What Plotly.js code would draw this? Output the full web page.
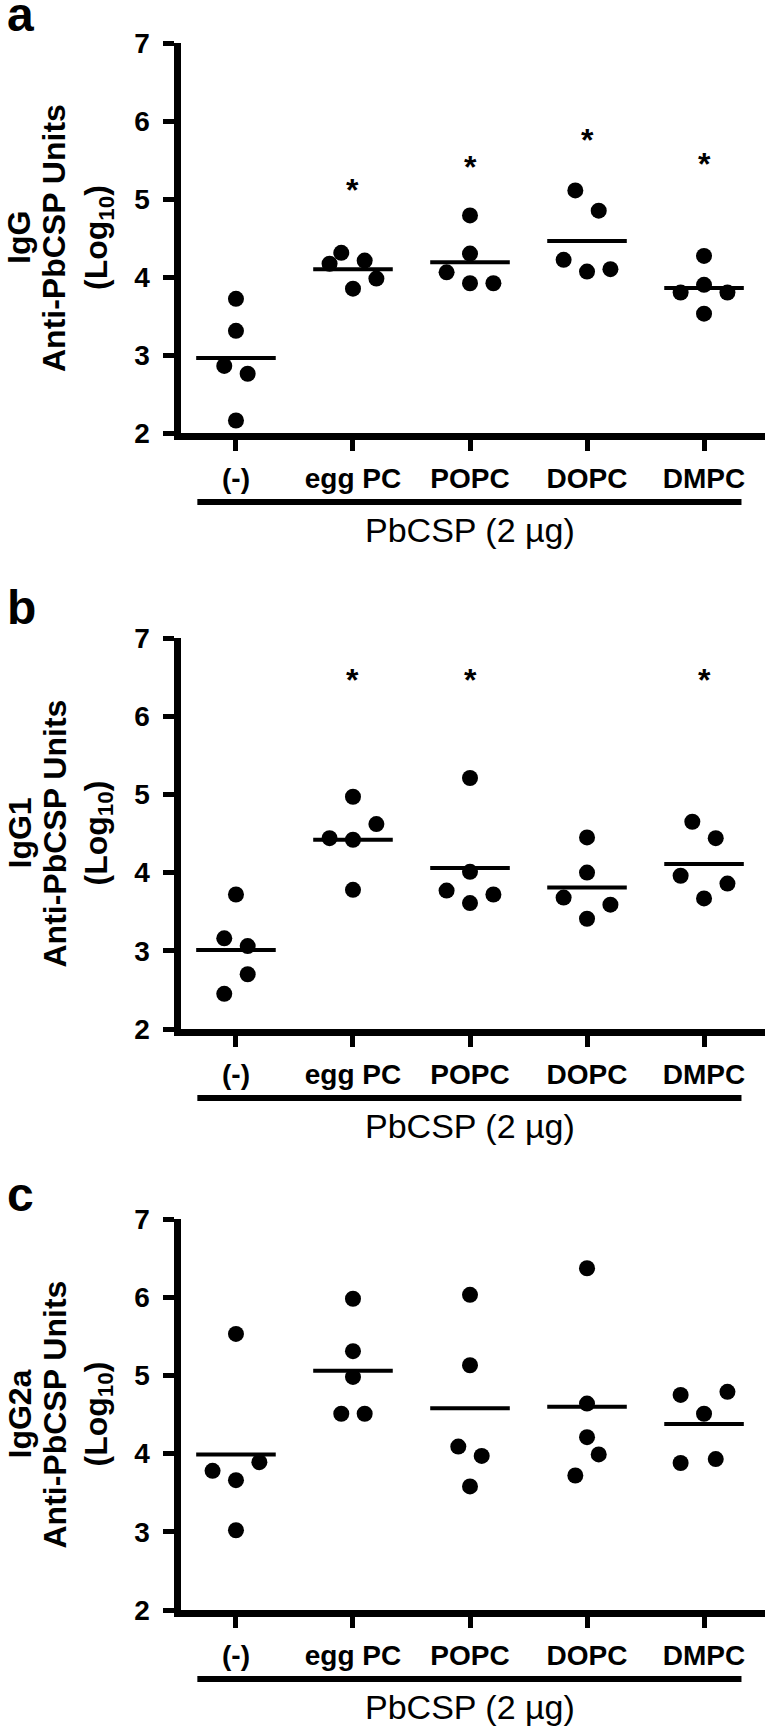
<!DOCTYPE html>
<html><head><meta charset="utf-8">
<script src="https://cdn.plot.ly/plotly-3.0.1.min.js"></script>
<style>html,body{margin:0;padding:0;background:#fff}#chart{width:768px;height:1732px}</style>
</head><body><div id="chart"></div>
<script>
// ---------- data ----------
const categories = ['(-)', 'egg PC', 'POPC', 'DOPC', 'DMPC'];
const panelLetters = ['a', 'b', 'c'];
const isotypes = ['IgG', 'IgG1', 'IgG2a'];
const yTicks = [2, 3, 4, 5, 6, 7];

// Panel a: IgG (log10 units), five mice per group
const igG_neg   = [3.72, 3.31, 2.86, 2.76, 2.16];
const igG_egg   = [4.17, 4.31, 4.21, 3.85, 3.98];
const igG_popc  = [4.79, 4.30, 4.06, 3.92, 3.92];
const igG_dopc  = [5.11, 4.85, 4.22, 4.07, 4.10];
const igG_dmpc  = [4.27, 3.80, 3.90, 3.80, 3.53];
const igG_means = [2.96, 4.10, 4.19, 4.46, 3.86];
const igG_sig   = ['', '*', '*', '*', '*'];
const igG_sigY  = [null, 5.21, 5.50, 5.84, 5.54];

// Panel b: IgG1
const igG1_neg   = [3.72, 3.16, 3.06, 2.70, 2.45];
const igG1_egg   = [4.97, 4.62, 4.44, 4.42, 3.78];
const igG1_popc  = [5.21, 4.01, 3.77, 3.72, 3.61];
const igG1_dopc  = [4.45, 4.00, 3.68, 3.59, 3.41];
const igG1_dmpc  = [4.65, 4.44, 3.96, 3.86, 3.67];
const igG1_means = [3.01, 4.42, 4.06, 3.81, 4.11];
const igG1_sig   = ['', '*', '*', '', '*'];
const igG1_sigY  = [null, 6.55, 6.55, null, 6.55];

// Panel c: IgG2a
const igG2a_neg   = [5.53, 3.78, 3.89, 3.66, 3.02];
const igG2a_egg   = [5.98, 5.31, 4.98, 4.51, 4.51];
const igG2a_popc  = [6.03, 5.13, 4.09, 3.97, 3.58];
const igG2a_dopc  = [6.37, 4.64, 4.21, 3.99, 3.72];
const igG2a_dmpc  = [4.75, 4.79, 4.51, 3.88, 3.93];
const igG2a_means = [3.99, 5.06, 4.58, 4.60, 4.38];
const igG2a_sig   = ['', '', '', '', ''];
const igG2a_sigY  = [null, null, null, null, null];

// horizontal spread of overlapping dots (category units), as drawn
const igG_spread   = [[0,0,-0.1,0.1,0], [-0.2,-0.1,0.1,0,0.2], [0,0,-0.2,0,0.2], [-0.1,0.1,-0.2,0,0.2], [0,-0.2,0,0.2,0]];
const igG1_spread  = [[0,-0.1,0.1,0.1,-0.1], [0,0.2,-0.2,0,0], [0,0,-0.2,0.2,0], [0,0,-0.2,0.2,0], [-0.1,0.1,-0.2,0.2,0]];
const igG2a_spread = [[0,-0.2,0.2,0,0], [0,0,0,-0.1,0.1], [0,0,-0.1,0.1,0], [0,0,0,0.1,-0.1], [-0.2,0.2,0,-0.2,0.1]];

const groupLabel = 'PbCSP (2 µg)';

// ---------- build ----------
const panels = [
  {groups: [igG_neg, igG_egg, igG_popc, igG_dopc, igG_dmpc], means: igG_means, sig: igG_sig, sigY: igG_sigY, spread: igG_spread},
  {groups: [igG1_neg, igG1_egg, igG1_popc, igG1_dopc, igG1_dmpc], means: igG1_means, sig: igG1_sig, sigY: igG1_sigY, spread: igG1_spread},
  {groups: [igG2a_neg, igG2a_egg, igG2a_popc, igG2a_dopc, igG2a_dmpc], means: igG2a_means, sig: igG2a_sig, sigY: igG2a_sigY, spread: igG2a_spread}
];

const W = 768, H = 1732;
const FONT = 'Liberation Sans, Arial, Helvetica, sans-serif';
const plotTopPx = [43, 638, 1219];   // pixel y of value 7
const plotBotPx = [433, 1029, 1610]; // pixel y of value 2
const letterPx  = [14, 607, 1194];   // pixel y of panel letters (box middle)
const xDomain = [180.5 / W, 765 / W];
const xRange = [-0.474, 4.521];
const meanHalf = 0.34;

const traces = [];
const layout = {
  width: W, height: H,
  margin: {l: 0, r: 0, t: 0, b: 0, pad: 0},
  paper_bgcolor: '#fff', plot_bgcolor: '#fff',
  showlegend: false,
  annotations: [], shapes: []
};

panels.forEach((p, i) => {
  const sfx = i === 0 ? '' : String(i + 1);
  const xa = 'x' + sfx, ya = 'y' + sfx;
  const yDom = [1 - plotBotPx[i] / H, 1 - plotTopPx[i] / H];

  layout['xaxis' + sfx] = {
    domain: xDomain, range: xRange, anchor: ya,
    tickmode: 'array', tickvals: categories.map((c, k) => k), ticktext: categories,
    ticks: 'outside', ticklen: 11, tickwidth: 5, tickcolor: '#000',
    showline: true, linewidth: 7, linecolor: '#000',
    showgrid: false, zeroline: false, automargin: false, fixedrange: true,
    ticklabelstandoff: 3,
    tickfont: {family: FONT, size: 28, color: '#000', weight: 'bold'}
  };
  layout['yaxis' + sfx] = {
    domain: yDom, range: [2, 7], anchor: xa,
    tickmode: 'array', tickvals: yTicks, ticktext: yTicks.map(String),
    ticks: 'outside', ticklen: 11, tickwidth: 5, tickcolor: '#000',
    showline: true, linewidth: 7, linecolor: '#000',
    showgrid: false, zeroline: false, automargin: false, fixedrange: true,
    ticklabelstandoff: 7,
    tickfont: {family: FONT, size: 28, color: '#000', weight: 'bold'}
  };

  // dots
  p.groups.forEach((vals, k) => {
    traces.push({
      type: 'scatter', mode: 'markers', xaxis: xa, yaxis: ya,
      x: vals.map((v, j) => k + p.spread[k][j]), y: vals,
      marker: {size: 16, color: '#000'}, hoverinfo: 'skip'
    });
  });
  // mean lines
  p.means.forEach((m, k) => {
    traces.push({
      type: 'scatter', mode: 'lines', xaxis: xa, yaxis: ya,
      x: [k - meanHalf, k + meanHalf], y: [m, m],
      line: {color: '#000', width: 4}, hoverinfo: 'skip'
    });
  });
  // significance asterisks
  p.sig.forEach((s, k) => {
    if (!s) return;
    layout.annotations.push({
      xref: xa, yref: ya, x: k, y: p.sigY[k], text: s, showarrow: false,
      xanchor: 'center', yanchor: 'middle', yshift: -7,
      font: {family: FONT, size: 32, color: '#000', weight: 'bold'}
    });
  });

  const midPx = (plotTopPx[i] + plotBotPx[i]) / 2;
  // panel letter
  layout.annotations.push({
    xref: 'paper', yref: 'paper', x: 5 / W, y: 1 - letterPx[i] / H,
    text: panelLetters[i], showarrow: false, xanchor: 'left', yanchor: 'middle',
    font: {family: FONT, size: 48, color: '#000', weight: 'bold'}
  });
  // y-axis title lines
  const titleLines = [isotypes[i], 'Anti-PbCSP Units', '(Log<sub>10</sub>)'];
  const titleX = [19, 54, 98];
  titleLines.forEach((t, j) => {
    layout.annotations.push({
      xref: 'paper', yref: 'paper', x: titleX[j] / W, y: 1 - midPx / H,
      text: t, showarrow: false, textangle: -90, xanchor: 'center', yanchor: 'middle',
      font: {family: FONT, size: 32, color: '#000', weight: 'bold'}
    });
  });
  // group bar and label
  const barPx = plotBotPx[i] + 69;
  layout.shapes.push({
    type: 'line', xref: xa, yref: 'paper', x0: -0.33, x1: 4.32,
    y0: 1 - barPx / H, y1: 1 - barPx / H, line: {color: '#000', width: 6}
  });
  layout.annotations.push({
    xref: xa, yref: 'paper', x: 2, y: 1 - (plotBotPx[i] + 97) / H,
    text: groupLabel, showarrow: false, xanchor: 'center', yanchor: 'middle',
    font: {family: FONT, size: 34, color: '#000'}
  });
});

Plotly.newPlot('chart', traces, layout, {staticPlot: true, displayModeBar: false});
</script></body></html>
